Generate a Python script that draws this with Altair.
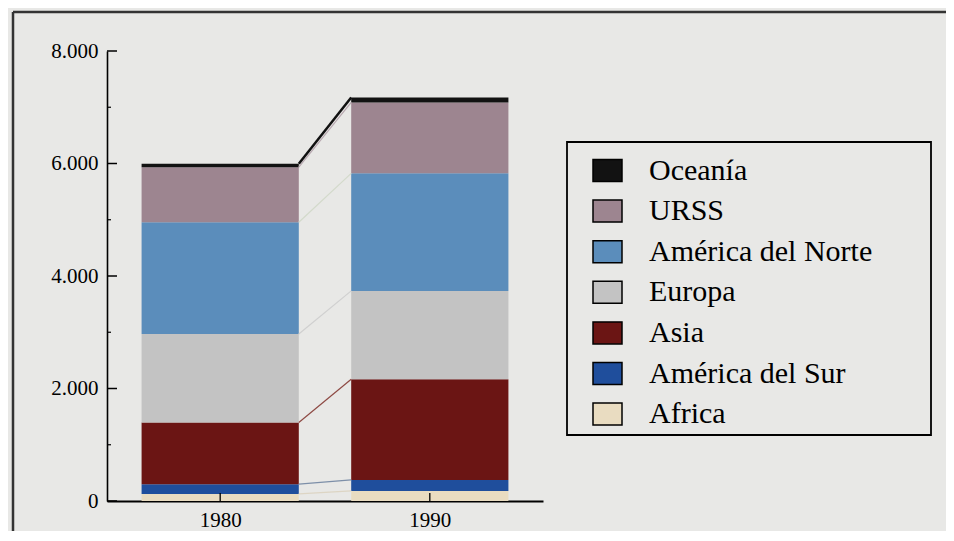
import altair as alt
import pandas as pd

# ---- data ----
years = [1980, 1990]
regions = ["Africa", "América del Sur", "Asia", "Europa", "América del Norte", "URSS", "Oceanía"]  # bottom -> top
values_1980 = [125, 175, 1095, 1575, 1985, 980, 60]
values_1990 = [180, 195, 1790, 1570, 2090, 1260, 90]
colors = ["#e9dcc1", "#1f4e9c", "#6b1514", "#c3c3c3", "#5b8dbb", "#9d8590", "#121212"]
line_colors = ["#ddd5c4", "#7d8fa8", "#8e4a44", "#d0d0d0", "#d3dacb", "#b8a8b0", "#111111"]
legend_order = ["Oceanía", "URSS", "América del Norte", "Europa", "Asia", "América del Sur", "Africa"]
y_major = [0, 2000, 4000, 6000, 8000]
y_minor = [1000, 3000, 5000, 7000]
x_ticks = [1980, 1990]

HALF = 3.75  # half bar width in years
FONT = "Liberation Serif"
BG = "#e8e8e6"

# ---- tables ----
rows = []
tops = {}
for yr, vals in zip(years, [values_1980, values_1990]):
    cum = 0
    for reg, v in zip(regions, vals):
        rows.append({"year": yr, "region": reg, "x0": yr - HALF, "x1": yr + HALF,
                     "y0": cum, "y1": cum + v})
        cum += v
        tops[(yr, reg)] = cum
bars_df = pd.DataFrame(rows)

lines_df = pd.DataFrame([
    {"region": reg, "xa": years[0] + HALF, "xb": years[1] - HALF,
     "ya": tops[(years[0], reg)], "yb": tops[(years[1], reg)], "lc": lc,
     "w": 2.5 if reg == "Oceanía" else 1.2}
    for reg, lc in zip(regions, line_colors)
])

color_range = [colors[regions.index(r)] for r in legend_order]

xs = alt.Scale(domain=[1974.6, 1995.4], nice=False, zero=False)
ys = alt.Scale(domain=[0, 8000], nice=False)

bars = alt.Chart(bars_df).mark_bar(stroke=None).encode(
    x=alt.X("x0:Q", scale=xs, title=None,
            axis=alt.Axis(values=x_ticks, format="d", ticks=False, grid=False,
                          domainColor="black", domainWidth=2.2,
                          labelFont=FONT, labelFontSize=21, labelColor="black",
                          labelPadding=8)),
    x2="x1:Q",
    y=alt.Y("y0:Q", scale=ys, title=None,
            axis=alt.Axis(values=y_major, ticks=False, grid=False,
                          domainColor="black", domainWidth=1.6,
                          labelFont=FONT, labelFontSize=21, labelColor="black",
                          labelPadding=9,
                          labelExpr="replace(format(datum.value, ','), ',', '.')")),
    y2="y1:Q",
    color=alt.Color("region:N", scale=alt.Scale(domain=legend_order, range=color_range),
                    sort=legend_order,
                    legend=alt.Legend(title=None, orient="none", legendX=485, legendY=104,
                                      padding=0, labelFont=FONT, labelFontSize=30,
                                      labelColor="black", labelOffset=26, labelLimit=400,
                                      symbolType="M-1,-0.76H1V0.76H-1Z", symbolSize=841,
                                      symbolStrokeColor="black", symbolStrokeWidth=1.5,
                                      symbolOpacity=1, rowPadding=9.6)),
)

lines = alt.Chart(lines_df).mark_rule().encode(
    x=alt.X("xa:Q", scale=xs), x2="xb:Q",
    y=alt.Y("ya:Q", scale=ys), y2="yb:Q",
    color=alt.Color("lc:N", scale=None),
    strokeWidth=alt.StrokeWidth("w:Q", scale=None),
)

major_df = pd.DataFrame({"v": y_major})
minor_df = pd.DataFrame({"v": y_minor})
xt_df = pd.DataFrame({"v": x_ticks})

major_ticks = alt.Chart(major_df).mark_rule(color="black", strokeWidth=1.5).encode(
    x=alt.value(0), x2=alt.value(10), y=alt.Y("v:Q", scale=ys))
minor_ticks = alt.Chart(minor_df).mark_rule(color="black", strokeWidth=1.2).encode(
    x=alt.value(0), x2=alt.value(4), y=alt.Y("v:Q", scale=ys))
x_tick_marks = alt.Chart(xt_df).mark_rule(color="black", strokeWidth=1.3).encode(
    x=alt.X("v:Q", scale=xs), y=alt.value(450), y2=alt.value(442))

one = pd.DataFrame({"k": [0]})
frame_left = alt.Chart(one).mark_rule(color="#333333", strokeWidth=2.5).encode(
    x=alt.value(-94), y=alt.value(-39), y2=alt.value(500))
frame_top = alt.Chart(one).mark_rule(color="#333333", strokeWidth=2.5).encode(
    x=alt.value(-94), x2=alt.value(860), y=alt.value(-39))
legend_box = alt.Chart(one).mark_rect(fill=None, stroke="black", strokeWidth=1.8).encode(
    x=alt.value(460), x2=alt.value(824), y=alt.value(91), y2=alt.value(384))

chart = alt.layer(
    bars, lines, major_ticks, minor_ticks, x_tick_marks, frame_left, frame_top, legend_box
).resolve_scale(color="independent", strokeWidth="independent").properties(
    width=436, height=450,
    padding={"left": 99, "top": 43, "right": 403, "bottom": 30},
    autosize=alt.AutoSizeParams(type="none"),
    background=BG,
).configure_view(stroke=None)

chart.save("out.html", embed_options={"renderer": "svg", "actions": False})
